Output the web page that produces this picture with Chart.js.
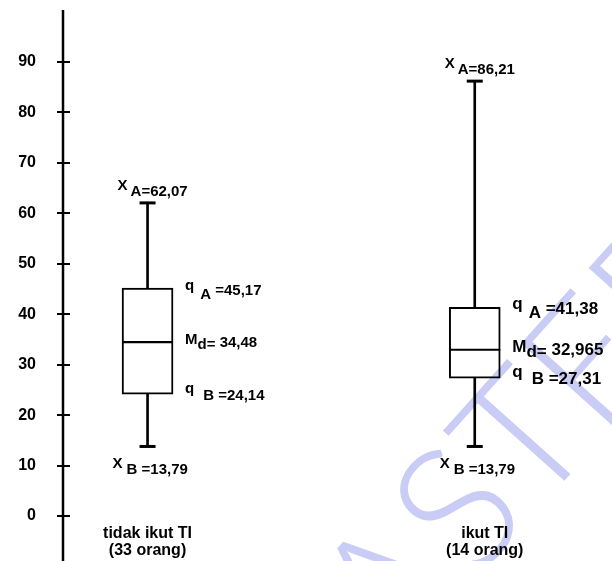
<!DOCTYPE html>
<html>
<head>
<meta charset="utf-8">
<style>
  html, body { margin: 0; padding: 0; background: #fff; }
  #wrap { width: 612px; height: 561px; }
</style>
</head>
<body>
<div id="wrap"><canvas id="c" width="612" height="561"></canvas></div>
<script src="https://cdn.jsdelivr.net/npm/chart.js@4.4.1/dist/chart.umd.min.js"></script>
<script>
// Box-plot summary of the two groups
const groups     = ['tidak ikut TI', 'ikut TI'];
const groupSizes = ['(33 orang)', '(14 orang)'];
const xMax   = [62.07, 86.21];   // X_A
const q3     = [45.17, 41.38];   // q_A
const median = [34.48, 32.965];  // M_d
const q1     = [24.14, 27.31];   // q_B
const xMin   = [13.79, 13.79];   // X_B
const yTicks = [0, 10, 20, 30, 40, 50, 60, 70, 80, 90];

// layout: where each group sits on the horizontal axis (0..10)
const slot = [1.54, 7.5];
const labelSize = [15, 17];
const FONT = '"Liberation Sans", Arial, Helvetica, sans-serif';
const fmt = v => String(v).replace('.', ',');

function drawPieces(ctx, x, baseline, size, pieces) {
  let cx = x;
  ctx.font = 'bold ' + size + 'px ' + FONT;
  pieces.forEach(p => {
    cx += p.gap || 0;
    ctx.fillText(p.t, cx, baseline + (p.dy || 0));
    cx += ctx.measureText(p.t).width;
  });
}

const boxDecor = {
  id: 'boxDecor',
  beforeDatasetsDraw(chart) {
    const { ctx, scales: { x, y } } = chart;
    const seg = (x1, y1, x2, y2) => { ctx.beginPath(); ctx.moveTo(x1, y1); ctx.lineTo(x2, y2); ctx.stroke(); };
    ctx.save();
    ctx.strokeStyle = '#000';
    // vertical axis line, running the full height
    ctx.lineWidth = 2.5;
    seg(x.left, y.top, x.left, chart.height);
    // tick marks crossing the axis
    ctx.lineWidth = 2;
    y.ticks.forEach(t => {
      const py = Math.round(y.getPixelForValue(t.value));
      seg(x.left - 6, py, x.left + 7, py);
    });
    ctx.restore();
  },
  afterDatasetsDraw(chart) {
    const { ctx, scales: { y } } = chart;
    const boxMeta = chart.getDatasetMeta(1);
    const seg = (x1, y1, x2, y2) => { ctx.beginPath(); ctx.moveTo(x1, y1); ctx.lineTo(x2, y2); ctx.stroke(); };
    ctx.save();
    ctx.strokeStyle = '#000';
    groups.forEach((g, i) => {
      const bar = boxMeta.data[i];
      const half = bar.width / 2;
      ctx.lineWidth = 2.2;
      const pm = y.getPixelForValue(median[i]);
      seg(bar.x - half, pm, bar.x + half, pm);
      ctx.lineWidth = 3;
      const pt = y.getPixelForValue(xMax[i]);
      const pb = y.getPixelForValue(xMin[i]);
      seg(bar.x - 8, pt, bar.x + 8, pt);
      seg(bar.x - 8, pb, bar.x + 8, pb);
    });
    ctx.restore();
  },
  afterDraw(chart) {
    const { ctx, scales: { y }, chartArea } = chart;
    const boxMeta = chart.getDatasetMeta(1);
    ctx.save();
    ctx.fillStyle = '#000';
    ctx.textAlign = 'left';
    ctx.textBaseline = 'alphabetic';
    groups.forEach((g, i) => {
      const bar = boxMeta.data[i];
      const right = bar.x + bar.width / 2 + 12;
      const s = labelSize[i];
      // whisker ends
      drawPieces(ctx, bar.x - 30, y.getPixelForValue(xMax[i]) - 7, 15, [
        { t: 'X', dy: -6 }, { t: 'A=' + fmt(xMax[i]), gap: 3 }
      ]);
      drawPieces(ctx, bar.x - 35, y.getPixelForValue(xMin[i]) + 28, 15, [
        { t: 'X', dy: -6 }, { t: 'B', gap: 4 }, { t: ' =' + fmt(xMin[i]) }
      ]);
      // quartiles and median
      drawPieces(ctx, right, y.getPixelForValue(q3[i]) + 7, s, [
        { t: 'q', dy: -5 }, { t: 'A', gap: 6, dy: 4 }, { t: ' =' + fmt(q3[i]) }
      ]);
      drawPieces(ctx, right, y.getPixelForValue(median[i]) + 5, s, [
        { t: 'M', dy: -3 }, { t: 'd=', dy: 2 }, { t: ' ' + fmt(median[i]) }
      ]);
      drawPieces(ctx, right, y.getPixelForValue(q1[i]) + 6, s, [
        { t: 'q', dy: -7 }, { t: 'B', gap: 9 }, { t: ' =' + fmt(q1[i]) }
      ]);
      // group captions
      ctx.textAlign = 'center';
      ctx.font = 'bold 16px ' + FONT;
      const cxp = bar.x + (i === 0 ? 0 : 10);
      ctx.fillText(groups[i], cxp, chartArea.bottom - 15);
      ctx.fillText(groupSizes[i], cxp, chartArea.bottom + 2);
      ctx.textAlign = 'left';
    });
    ctx.restore();

    // faint diagonal stamp across the lower right
    ctx.save();
    ctx.globalCompositeOperation = 'multiply';
    ctx.fillStyle = '#c9ccf4';
    ctx.translate(525, 440);
    ctx.rotate(-0.84);
    ctx.font = '300 175px Lato, "Liberation Sans", sans-serif';
    ctx.textAlign = 'center';
    ctx.textBaseline = 'middle';
    ctx.fillText('ASTER', 0, 0);
    ctx.restore();
  }
};

new Chart(document.getElementById('c'), {
  type: 'bar',
  data: {
    datasets: [
      {
        // whiskers, drawn underneath the boxes
        data: xMin.map((v, i) => ({ x: slot[i], y: [v, xMax[i]] })),
        backgroundColor: '#000',
        borderWidth: 0,
        barThickness: 2,
        grouped: false,
        order: 2
      },
      {
        // interquartile boxes
        data: q1.map((v, i) => ({ x: slot[i], y: [v, q3[i]] })),
        backgroundColor: '#fff',
        borderColor: '#000',
        borderWidth: 2,
        borderSkipped: false,
        barThickness: 51,
        grouped: false,
        order: 1
      }
    ]
  },
  options: {
    responsive: false,
    animation: false,
    devicePixelRatio: 1,
    layout: { padding: { top: 10, right: 0, bottom: 0, left: 0 } },
    plugins: { legend: { display: false }, tooltip: { enabled: false } },
    scales: {
      x: { type: 'linear', min: 0, max: 10, offset: false, display: false },
      y: {
        min: -7.33, max: 100.31,
        afterBuildTicks: s => { s.ticks = yTicks.map(v => ({ value: v })); },
        afterFit: s => { s.width = 63; },
        border: { display: false },
        grid: { drawOnChartArea: false, drawTicks: true, tickLength: 27, tickColor: 'rgba(0,0,0,0)' },
        ticks: { color: '#000', padding: 0, font: { family: FONT, size: 16, weight: 'bold', lineHeight: 1 } }
      }
    }
  },
  plugins: [boxDecor]
});
</script>
</body>
</html>
